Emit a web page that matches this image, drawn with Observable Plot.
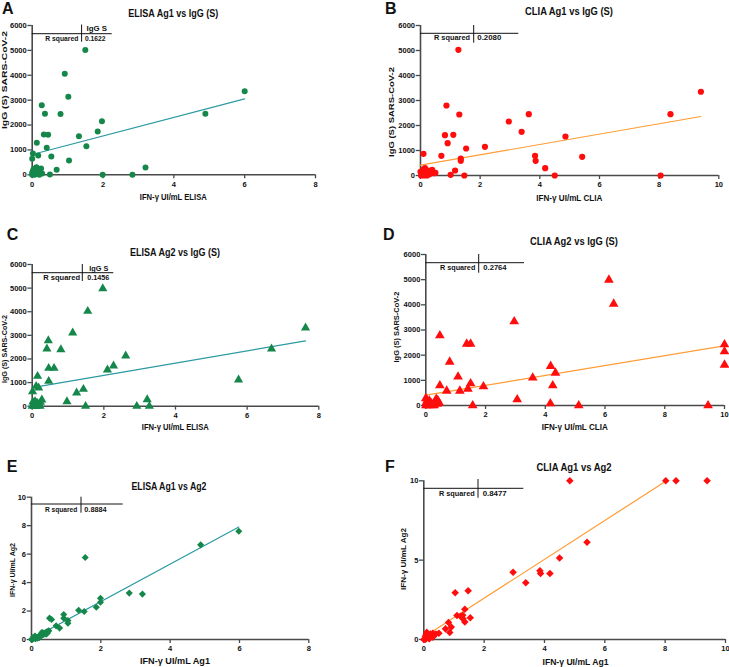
<!DOCTYPE html>
<html><head><meta charset="utf-8">
<script src="https://cdn.jsdelivr.net/npm/d3@7"></script>
<script src="https://cdn.jsdelivr.net/npm/@observablehq/plot@0.6"></script>
<style>
body{margin:0;background:#fff;}
#wrap{position:relative;width:729px;height:667px;overflow:hidden;background:#fff;}
#wrap svg{position:absolute;left:0;top:0;}
</style></head><body><div id="wrap"></div>
<script>
// ---------- data ----------
// A: ELISA Ag1 (x) vs IgG S (y)
const aX = [6.0,4.89,1.5,0.92,1.02,0.27,0.36,0.80,1.97,1.85,1.32,0.33,0.45,1.53,0.41,0.13,0.02,0.0,0.17,0.54,1.04,0.69,3.2,0.5,1.99,2.83,
  0.02,0.05,0.08,0.10,0.12,0.15,0.18,0.22,0.25,0.28,0.0,0.03,0.07,0.12,0.2,0.06,0.15,0.09,0.0,0.04];
const aY = [3360,2450,5020,4060,3135,2800,2450,2440,2155,1740,1550,1620,1610,1150,1085,1285,855,640,775,735,575,200,290,12,0,0,
  150,40,200,90,300,240,150,80,250,50,0,20,0,30,0,120,60,260,80,230];
// B: CLIA Ag1 (x) vs IgG S (y)
const bX = [9.4,8.38,8.05,5.42,4.86,4.5,4.18,3.84,3.86,3.63,3.39,2.96,2.16,1.53,1.27,1.30,0.87,0.82,1.10,0.91,0.70,1.35,1.35,1.16,1.01,1.47,0.10,
  0.0,0.05,0.1,0.15,0.2,0.25,0.3,0.39,0.5,0.45,0.22,0.12,0.02,0.08,0.3,0.18,0.06,0.14];
const bY = [3350,2453,0,747,1560,0,293,787,587,2453,1747,2160,1147,1080,5027,2440,2800,1613,1627,1293,787,680,587,200,27,0,867,
  150,50,250,300,100,200,50,228,107,90,0,0,0,200,150,180,100,60];
// C: ELISA Ag2 (x) vs IgG S (y)
const cX = [7.63,6.68,5.76,1.97,1.55,1.13,0.45,0.41,0.80,2.61,2.27,2.10,0.46,0.61,0.15,0.46,0.11,0.18,0.01,1.43,1.24,0.97,3.21,1.49,2.92,3.27,0.27,0.23,
  0.0,0.05,0.08,0.1,0.12,0.15,0.18,0.2,0.03,0.06,0.1,0.14,0.22,0.02,0.09];
const cY = [3320,2430,1118,4983,4022,3108,2782,2430,2400,2134,1710,1541,1609,1609,1270,1058,847,779,622,720,567,199,284,0,0,0,270,170,
  0,100,200,50,0,120,30,80,40,0,150,60,0,180,0];
// D: CLIA Ag2 (x) vs IgG S (y)
const dX = [6.13,6.29,2.96,0.47,1.37,1.50,10,10,10,0.80,4.18,4.34,1.08,3.58,1.50,4.25,0.47,1.93,1.41,0.70,1.14,3.06,4.17,1.57,5.12,9.45,
  0.0,0.05,0.1,0.15,0.2,0.3,0.35,0.4,0.45,0.0,0.08,0.25,0.02,0.12,0.18,0.38,0.28,0.05];
const dY = [4993,4040,3337,2781,2450,2450,2423,2145,1616,1735,1562,1298,1140,1100,874,795,795,755,662,583,583,238,80,0,0,0,
  280,200,100,50,0,150,250,200,100,0,0,50,120,180,90,60,0,40];
// E: ELISA Ag1 (x) vs ELISA Ag2 (y)
const eX = [5.98,4.88,1.55,2.82,3.20,1.99,1.99,1.87,1.36,1.52,0.93,0.93,0.52,0.58,1.05,1.05,0.71,0.81,
  0.5,0.45,0.4,0.35,0.3,0.25,0.2,0.15,0.1,0.1,0.05,0.02,0.0,0.08,0.3,0.42,0.12,0.18,0.35,0.46,0.22,0.05,0.28];
const eY = [7.61,6.65,5.76,3.26,3.19,2.90,2.62,2.27,2.06,1.97,1.76,1.50,1.50,1.41,1.33,1.15,0.96,0.80,
  0.62,0.55,0.48,0.45,0.40,0.30,0.20,0.15,0.25,0.1,0.05,0.0,0.0,0.12,0.5,0.38,0.05,0.1,0.35,0.45,0.12,0.15,0.25];
// F: CLIA Ag1 (x) vs CLIA Ag2 (y)
const fX = [4.84,8.02,8.36,9.39,5.41,4.50,2.96,3.85,3.87,4.18,3.38,1.04,1.47,1.36,1.10,1.22,1.29,1.54,1.30,1.36,0.82,0.91,0.72,0.86,
  0.5,0.4,0.3,0.25,0.2,0.15,0.1,0.1,0.05,0.0,0.2,0.12,0.3,0.05,0.18,0.08,0.22];
const fY = [10,10,10,10,6.13,5.13,4.24,4.33,4.16,4.16,3.57,2.94,3.07,1.91,1.51,1.47,1.53,1.37,1.30,1.11,1.07,0.78,0.67,0.44,
  0.4,0.35,0.4,0.3,0.25,0.2,0.45,0.1,0.0,0.0,0.1,0.3,0.15,0.2,0.05,0.3,0.35];

// fitted lines: [intercept, slope]
const fits = {A:[815,373], B:[413,207], C:[790,259], D:[410,196], E:[0.03,1.316], F:[0.15,1.225]};
const rSquared = {A:"0.1622", B:"0.2080", C:"0.1456", D:"0.2764", E:"0.8884", F:"0.8477"};
const titles = {A:"ELISA Ag1 vs IgG (S)", B:"CLIA Ag1 vs IgG (S)", C:"ELISA Ag2 vs IgG (S)", D:"CLIA Ag2 vs IgG (S)", E:"ELISA Ag1 vs Ag2", F:"CLIA Ag1 vs Ag2"};
const xLabels = {A:"IFN-γ UI/mL ELISA", B:"IFN-γ UI/mL CLIA", C:"IFN-γ UI/mL ELISA", D:"IFN-γ UI/mL CLIA", E:"IFN-γ UI/mL Ag1", F:"IFN-γ UI/mL Ag1"};
const yLabels = {A:"IgG (S) SARS-CoV-2", B:"IgG (S) SARS-CoV-2", C:"IgG (S) SARS-CoV-2", D:"IgG (S) SARS-CoV-2", E:"IFN-γ UI/mL Ag2", F:"IFN-γ UI/mL Ag2"};
const ticks8 = [0,2,4,6,8], ticks10 = [0,2,4,6,8,10];
const ticksIgG = [0,1000,2000,3000,4000,5000,6000];
const ticksE = [0,2,4,6,8,10], ticksF = [0,5,10];

// ---------- layout ----------
const W = 729, H = 667;
const GREEN = "#15874a", TEAL = "#2b9aa2", RED = "#ff0d0d", ORANGE = "#ff9c33", AX = "#4a4a4a";
const FONT = "'Liberation Sans', Arial, Helvetica, sans-serif";

const panels = [
 {id:"A", x:aX, y:aY, f:[31.7,315,25,174.3], xd:[0,8], xt:ticks8, yd:[0,6000], yt:ticksIgG, sym:"circle", r:3, pc:GREEN, lc:TEAL,
  letter:[2,13.5], title:[173.3,17,90], xl:[173.3,199.5,67], yl:[6.5,80,98],
  tab:{hy:33.7,hx2:111.7,vx:81.6,vy1:24.5,vy2:41.7, head:[86.5,31,20.5], rs:[78.3,40.5,33], val:[85,40.5,20.5]}, header:"IgG S"},
 {id:"B", x:bX, y:bY, f:[420,718.3,25,175], xd:[0,10], xt:ticks10, yd:[0,6000], yt:ticksIgG, sym:"circle", r:3.1, pc:RED, lc:ORANGE,
  letter:[385,13.5], title:[569,14.7,88], xl:[569.3,201,66], yl:[394,112,90],
  tab:{hy:33.3,hx2:518.3,vx:473.7,vy1:25,vy2:42.7, rs:[470,40,36], val:[477.3,40,24]}},
 {id:"C", x:cX, y:cY, f:[31.7,318.3,264,405.7], xd:[0,8], xt:ticks8, yd:[0,6000], yt:ticksIgG, sym:"triangle", r:3.4, pc:GREEN, lc:TEAL,
  letter:[6.7,240], title:[175,256.3,90], xl:[175.3,429.5,67], yl:[6.5,349,68],
  tab:{hy:272.7,hx2:113.3,vx:82.3,vy1:264,vy2:281, head:[89.3,270.7,19], rs:[80,279.5,36.7], val:[87.3,279.5,22]}, header:"IgG S"},
 {id:"D", x:dX, y:dY, f:[425.3,724,254,405], xd:[0,10], xt:ticks10, yd:[0,6000], yt:ticksIgG, sym:"triangle", r:3.6, pc:RED, lc:ORANGE,
  letter:[383,240], title:[574,245.3,88], xl:[574.8,429.5,66], yl:[399,327,71],
  tab:{hy:262.7,hx2:524,vx:478.7,vy1:254,vy2:272.7, rs:[475.3,269.5,35.3], val:[483.3,269.5,23.3]}},
 {id:"E", x:eX, y:eY, f:[31,308.3,496.7,639], xd:[0,8], xt:ticks8, yd:[0,10], yt:ticksE, sym:"diamond2", r:3.2, pc:GREEN, lc:TEAL,
  letter:[6.7,472], title:[169,490,75], xl:[175,663.5,70], yl:[15,570,54],
  tab:{hy:504,hx2:122.7,vx:81,vy1:496.7,vy2:512.7, rs:[77.3,511.5,32.3], val:[84.3,511.5,22.3]}},
 {id:"F", x:fX, y:fY, f:[423.3,725,480.3,639], xd:[0,10], xt:ticks10, yd:[0,10], yt:ticksF, sym:"diamond2", r:3.4, pc:RED, lc:ORANGE,
  letter:[385,472], title:[574,470.7,75], xl:[575.5,664.5,66], yl:[406,559,62],
  tab:{hy:488.3,hx2:523.3,vx:478,vy1:479,vy2:497.7, rs:[474.7,495.5,35.7], val:[482.7,495.5,24]}}
];

const wrap = document.getElementById("wrap");

function addText(g, s, x, y, {size=8, weight="normal", anchor="start", len=null, rotate=false}={}) {
  const t = g.append("text")
    .attr("font-family", FONT).attr("font-size", size).attr("font-weight", weight)
    .attr("fill", "#111").attr("text-anchor", anchor).text(s);
  if (rotate) t.attr("transform", `translate(${x},${y}) rotate(-90)`);
  else t.attr("x", x).attr("y", y);
  if (len) t.attr("textLength", len).attr("lengthAdjust", "spacingAndGlyphs");
  return t;
}

for (const p of panels) {
  const data = p.x.map((x, i) => ({x, y: p.y[i]}));
  const [b0, b1] = fits[p.id];
  const ext = d3.extent(p.x);
  const fitLine = ext.map(x => ({x, y: b0 + b1 * x}));
  const svgEl = Plot.plot({
    width: W, height: H,
    marginLeft: p.f[0], marginRight: W - p.f[1], marginTop: p.f[2], marginBottom: H - p.f[3],
    style: {background: "transparent", fontFamily: FONT, color: "#111"},
    x: {domain: p.xd, axis: null},
    y: {domain: p.yd, axis: null},
    marks: [
      Plot.axisX({ticks: p.xt, tickSize: 4, tickPadding: 2.5, fontSize: 7.5, fontWeight: "bold", stroke: AX, strokeWidth: 1.3, fill: "#111", tickFormat: d => String(d), label: null}),
      Plot.axisY({ticks: p.yt, tickSize: 4.3, tickPadding: 1.2, fontSize: 7.5, fontWeight: "bold", stroke: AX, strokeWidth: 1.3, fill: "#111", tickFormat: d => String(d), label: null}),
      Plot.ruleY([p.yd[0]], {stroke: AX, strokeWidth: 1.6}),
      Plot.ruleX([p.xd[0]], {stroke: AX, strokeWidth: 1.6}),
      Plot.line(fitLine, {x: "x", y: "y", stroke: p.lc, strokeWidth: 1.2, clip: true}),
      Plot.dot(data, {x: "x", y: "y", symbol: p.sym, r: p.r, fill: p.pc, stroke: "none"})
    ]
  });
  wrap.appendChild(svgEl);
  const g = d3.select(svgEl).append("g");
  addText(g, p.id, p.letter[0], p.letter[1], {size: 16, weight: "bold"});
  addText(g, titles[p.id], p.title[0], p.title[1], {size: 10.5, weight: "bold", anchor: "middle", len: p.title[2]});
  addText(g, xLabels[p.id], p.xl[0], p.xl[1], {size: 8.5, weight: "bold", anchor: "middle", len: p.xl[2]});
  addText(g, yLabels[p.id], p.yl[0], p.yl[1], {size: 8, weight: "bold", anchor: "middle", len: p.yl[2], rotate: true});
  const t = p.tab;
  g.append("line").attr("x1", p.f[0]).attr("x2", t.hx2).attr("y1", t.hy).attr("y2", t.hy).attr("stroke", "#111").attr("stroke-width", 1);
  g.append("line").attr("x1", t.vx).attr("x2", t.vx).attr("y1", t.vy1).attr("y2", t.vy2).attr("stroke", "#111").attr("stroke-width", 1);
  if (p.header) addText(g, p.header, t.head[0], t.head[1], {size: 8, weight: "bold", len: t.head[2]});
  addText(g, "R squared", t.rs[0], t.rs[1], {size: 8, weight: "600", anchor: "end", len: t.rs[2]});
  addText(g, rSquared[p.id], t.val[0], t.val[1], {size: 8, weight: "600", len: t.val[2]});
}
</script></body></html>
